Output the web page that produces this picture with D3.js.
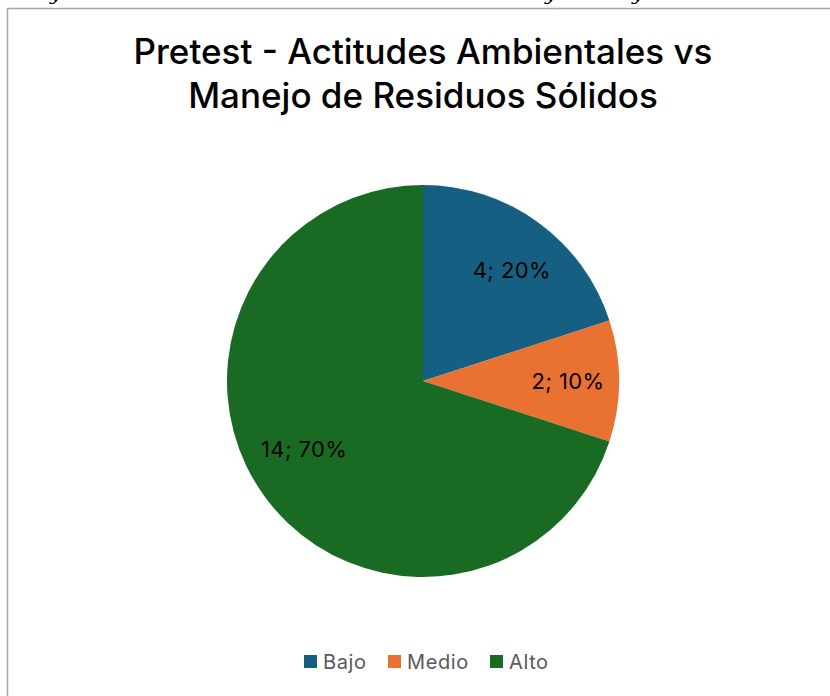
<!DOCTYPE html>
<meta charset="utf-8">
<style>
body {margin: 0; background: white;}
.title {font-family: Inter, "Open Sans", sans-serif; font-weight: 500; font-size: 35px; fill: #000;}
.lbl {font-family: Inter, "Open Sans", sans-serif; font-size: 22px; letter-spacing: 0.4px; fill: #000;}
.legend text {font-family: Inter, "Open Sans", sans-serif; font-size: 20px; letter-spacing: 0.6px; fill: #595959;}
.frame {fill: none; stroke: #a6a6a6; stroke-width: 1.5px;}
.cut {font-family: "DejaVu Serif", serif; font-style: italic; font-size: 20px; fill: #000;}
</style>
<body>
<script src="https://d3js.org/d3.v7.min.js"></script>
<script>
var width = 830, height = 696
var categories = ["Bajo", "Medio", "Alto"]
var counts = [4, 2, 14]
var percents = [20, 10, 70]
var colors = ["#156082", "#E97132", "#196B24"]
var titleLines = ["Pretest - Actitudes Ambientales vs", "Manejo de Residuos Sólidos"]

var svg = d3.select("body").append("svg")
  .attr("width", width).attr("height", height)

// bits of the page text above the chart, only descenders show
svg.selectAll(".cut")
  .data([50, 545, 632]).enter().append("text")
  .attr("class", "cut").attr("x", d => d).attr("y", 0).text("y")

svg.append("rect").attr("class", "frame")
  .attr("x", 7.5).attr("y", 8.5).attr("width", 840).attr("height", 720)

svg.selectAll(".title")
  .data(titleLines).enter().append("text")
  .attr("class", "title").attr("text-anchor", "middle")
  .attr("x", 423).attr("y", (d, i) => 64 + i * 44).text(d => d)

var cx = 423, cy = 381, r = 196
var pie = d3.pie().sort(null).value(d => d)
var arc = d3.arc().innerRadius(0).outerRadius(r)
var color = d3.scaleOrdinal().domain(categories).range(colors)
var arcs = pie(counts)

var g = svg.append("g").attr("transform", "translate(" + cx + "," + cy + ")")
g.selectAll("path")
  .data(arcs).enter().append("path")
  .attr("d", arc).attr("fill", (d, i) => color(categories[i]))

// excel "best fit" label spots: distance as share of radius, angle nudge in degrees
var labelDist = [0.725, 0.74, 0.70]
var labelNudge = [2.7, 0, 6]
g.selectAll(".lbl")
  .data(arcs).enter().append("text")
  .attr("class", "lbl").attr("text-anchor", "middle").attr("dy", "0.35em")
  .attr("transform", (d, i) => "translate(" + d3.pointRadial(
    (d.startAngle + d.endAngle) / 2 + labelNudge[i] * Math.PI / 180,
    r * labelDist[i]) + ")")
  .text((d, i) => counts[i] + "; " + percents[i] + "%")

var legendX = [304, 388, 490]
var leg = svg.append("g").attr("class", "legend")
var items = leg.selectAll("g")
  .data(categories).enter().append("g")
  .attr("transform", (d, i) => "translate(" + legendX[i] + ",655)")
items.append("rect").attr("width", 13).attr("height", 13)
  .attr("fill", d => color(d))
items.append("text").attr("x", 19).attr("y", 14).text(d => d)
</script>
